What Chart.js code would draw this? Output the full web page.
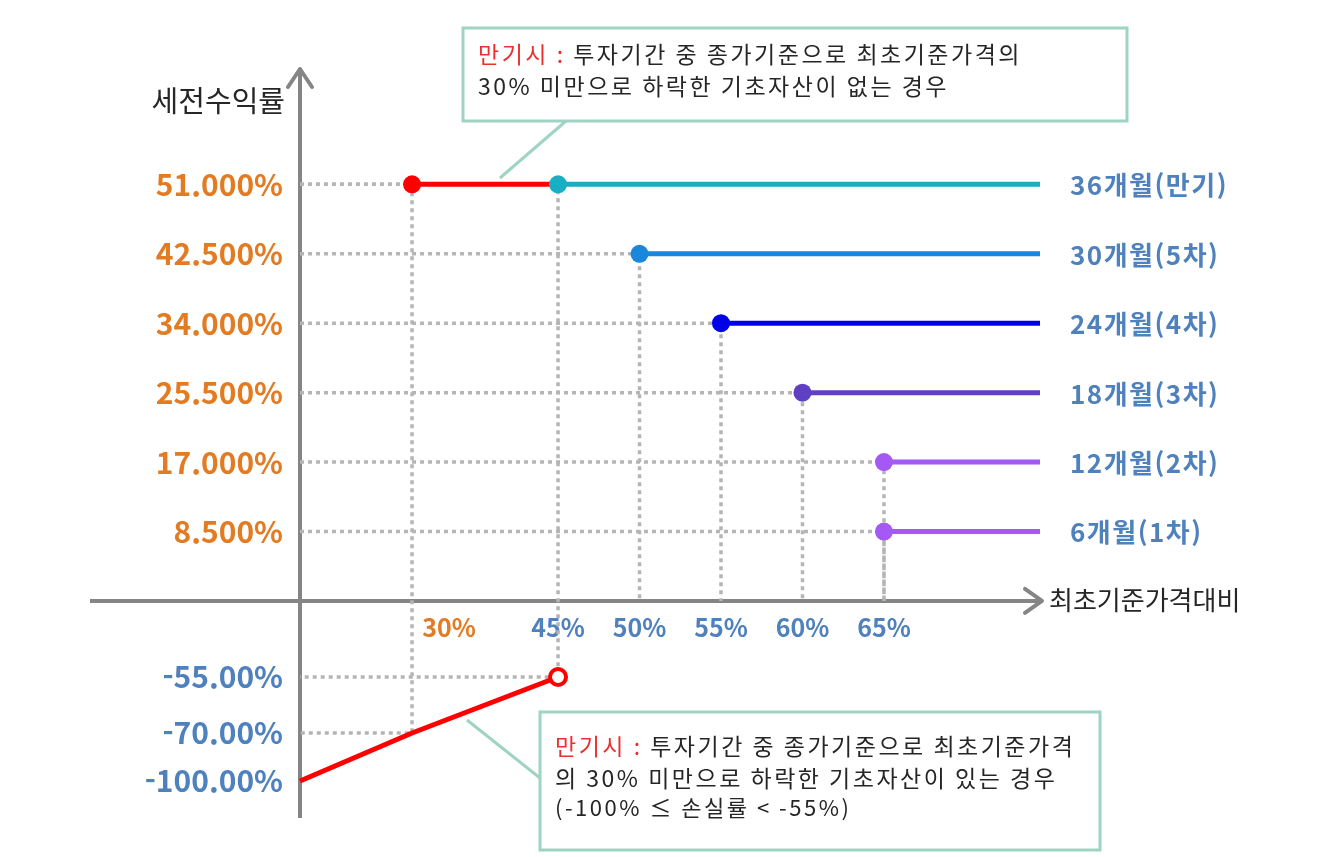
<!DOCTYPE html>
<html lang="ko">
<head>
<meta charset="utf-8">
<title>세전수익률 구조</title>
<script src="https://cdn.jsdelivr.net/npm/chart.js@4.4.1/dist/chart.umd.min.js"></script>
<style>
  html, body { margin: 0; padding: 0; background: #fff; }
  #payoffChart { display: block; }
</style>
</head>
<body>
<canvas id="payoffChart" width="1324" height="857"></canvas>
<script>
// 조기상환 / 만기 상환 조건
var periodLabels = ['36개월(만기)', '30개월(5차)', '24개월(4차)', '18개월(3차)', '12개월(2차)', '6개월(1차)'];
var barrierLevels = [45, 50, 55, 60, 65, 65];
var returnRates = [51, 42.5, 34, 25.5, 17, 8.5];

// 만기 낙인 조건과 손실 구간
var knockInLevel = 30;
var lossPrices = [0, 30, 45];
var lossRates = [-100, -70, -55];

// 축 눈금
var xTickValues = [30, 45, 50, 55, 60, 65];
var xTickLabels = ['30%', '45%', '50%', '55%', '60%', '65%'];
var yTickValues = [51, 42.5, 34, 25.5, 17, 8.5, -55, -70, -100];
var yTickLabels = ['51.000%', '42.500%', '34.000%', '25.500%', '17.000%', '8.500%', '-55.00%', '-70.00%', '-100.00%'];

var yTitle = '세전수익률';
var xTitle = '최초기준가격대비';
var noteTop = ['만기시 : ', '투자기간 중 종가기준으로 최초기준가격의', '30% 미만으로 하락한 기초자산이 없는 경우'];
var noteBottom = ['만기시 : ', '투자기간 중 종가기준으로 최초기준가격', '의 30% 미만으로 하락한 기초자산이 있는 경우', '(-100% ≤ 손실률 < -55%)'];

// styles
var FONT = "'Noto Sans CJK KR', 'Noto Sans', sans-serif";
var ORANGE = '#e27b22';
var BLUE = '#4f81bd';
var AXIS = '#858585';
var DOT = '#b5b5b5';
var RED = '#ff0000';
var BOX = '#9fd4c4';
var lineColors = ['#1aaec4', '#1a86dc', '#0000e8', '#6040c2', '#a458f4', '#a458f4'];
var X_MIN = -50, X_MAX = 100, Y_MIN = -120, Y_MAX = 65;

// linear scale with uneven spacing between break values (schematic axis)
class BrokenScale extends Chart.LinearScale {
  _toDecimal(value) {
    var br = this.options.breaks;
    var i = 1;
    while (i < br.length - 1 && value > br[i][0]) i++;
    var a = br[i - 1], b = br[i];
    return a[1] + (value - a[0]) / (b[0] - a[0]) * (b[1] - a[1]);
  }
  getPixelForValue(value) {
    if (value === null || value === undefined) return NaN;
    return this.getPixelForDecimal(this._toDecimal(value));
  }
  getValueForPixel(pixel) {
    var d = this.getDecimalForPixel(pixel);
    var br = this.options.breaks;
    var i = 1;
    while (i < br.length - 1 && d > br[i][1]) i++;
    var a = br[i - 1], b = br[i];
    return a[0] + (d - a[1]) / (b[1] - a[1]) * (b[0] - a[0]);
  }
  _computeLabelItems(chartArea) {
    var items = super._computeLabelItems(chartArea);
    var nudge = this.options.labelNudge || 0;
    items.forEach(function (item, i) {
      var d = Array.isArray(nudge) ? (nudge[i] || 0) : nudge;
      item.options.translation[0] += d;
    });
    return items;
  }
}
BrokenScale.id = 'broken';
Chart.register(BrokenScale);

function dotted(points) {
  return {
    data: points, borderColor: DOT, borderWidth: 3.5, borderDash: [4, 4],
    pointRadius: 0, fill: false, tension: 0, order: 2
  };
}

function solid(points, color, order) {
  return {
    data: points, borderColor: color, backgroundColor: color, borderWidth: 5,
    pointRadius: function (c) { return c.dataIndex === 0 ? 9 : 0; },
    pointHoverRadius: function (c) { return c.dataIndex === 0 ? 9 : 0; },
    pointBorderWidth: 0, fill: false, tension: 0, order: order
  };
}

function lossAt(price) {
  return lossRates[lossPrices.indexOf(price)];
}

var datasets = [];
// guide lines
datasets.push(dotted([
  { x: 0, y: returnRates[0] }, { x: knockInLevel, y: returnRates[0] },
  { x: knockInLevel, y: lossAt(knockInLevel) }, { x: 0, y: lossAt(knockInLevel) }
]));
barrierLevels.forEach(function (b, i) {
  var pts = [{ x: 0, y: returnRates[i] }, { x: b, y: returnRates[i] }];
  if (i === 0) {
    pts.push({ x: b, y: lossAt(b) }, { x: 0, y: lossAt(b) });
  } else {
    pts.push({ x: b, y: 0 });
  }
  datasets.push(dotted(pts));
});
// maturity: knocked-in never -> red stretch from 30% to 45%
datasets.push(solid([{ x: knockInLevel, y: returnRates[0] }, { x: barrierLevels[0], y: returnRates[0] }], RED, 1));
barrierLevels.forEach(function (b, i) {
  datasets.push(solid([{ x: b, y: returnRates[i] }, { x: X_MAX, y: returnRates[i] }], lineColors[i], 0));
});
// loss line
datasets.push({
  data: lossPrices.map(function (p, i) { return { x: p, y: lossRates[i] }; }),
  borderColor: RED, backgroundColor: '#ffffff', borderWidth: 5,
  pointRadius: function (c) { return c.dataIndex === lossPrices.length - 1 ? 8 : 0; },
  pointHoverRadius: function (c) { return c.dataIndex === lossPrices.length - 1 ? 8 : 0; },
  pointBorderWidth: 4, pointBorderColor: RED, fill: false, tension: 0, order: 0
});

function richLine(ctx, parts, x, y) {
  parts.forEach(function (p) {
    ctx.fillStyle = p[1];
    ctx.fillText(p[0], x, y);
    x += ctx.measureText(p[0]).width;
  });
}

function noteBox(ctx, box, lines, callout) {
  ctx.save();
  ctx.strokeStyle = BOX;
  ctx.lineWidth = 3;
  ctx.beginPath();
  ctx.moveTo(callout[0], callout[1]);
  ctx.lineTo(callout[2], callout[3]);
  ctx.stroke();
  ctx.fillStyle = '#ffffff';
  ctx.fillRect(box.x, box.y, box.w, box.h);
  ctx.strokeRect(box.x, box.y, box.w, box.h);
  ctx.textBaseline = 'middle';
  ctx.textAlign = 'left';
  ctx.letterSpacing = '2.5px';
  lines.forEach(function (ln) {
    ctx.font = ln.size + 'px ' + FONT;
    richLine(ctx, ln.parts, box.x + 15, ln.y);
  });
  ctx.restore();
}

var decorPlugin = {
  id: 'decor',
  afterDraw: function (chart) {
    var ctx = chart.ctx, xs = chart.scales.x, ys = chart.scales.y, area = chart.chartArea;
    var ox = xs.getPixelForValue(0), oy = ys.getPixelForValue(0);
    ctx.save();
    // arrow heads
    ctx.strokeStyle = AXIS;
    ctx.lineWidth = 4;
    ctx.lineCap = 'round';
    ctx.lineJoin = 'round';
    ctx.beginPath();
    ctx.moveTo(ox - 12, area.top + 17);
    ctx.lineTo(ox, area.top - 1);
    ctx.lineTo(ox + 12, area.top + 17);
    ctx.stroke();
    ctx.beginPath();
    ctx.moveTo(area.right - 15, oy - 12);
    ctx.lineTo(area.right + 2, oy);
    ctx.lineTo(area.right - 15, oy + 12);
    ctx.stroke();
    // axis titles
    ctx.fillStyle = '#262626';
    ctx.textBaseline = 'middle';
    ctx.font = '29px ' + FONT;
    ctx.textAlign = 'right';
    ctx.fillText(yTitle, ox - 15, area.top + 31);
    ctx.textAlign = 'left';
    ctx.font = '26px ' + FONT;
    ctx.fillText(xTitle, area.right + 9, oy - 1);
    // period labels
    ctx.font = 'bold 26px ' + FONT;
    ctx.letterSpacing = '1.5px';
    ctx.fillStyle = BLUE;
    periodLabels.forEach(function (t, i) {
      ctx.fillText(t, area.right + 30, ys.getPixelForValue(returnRates[i]) + 1);
    });
    ctx.restore();

    var DARK = '#262626';
    noteBox(ctx, { x: 463, y: 28, w: 664, h: 93 }, [
      { size: 23, y: 54, parts: [[noteTop[0], '#e8312f'], [noteTop[1], DARK]] },
      { size: 23, y: 86, parts: [[noteTop[2], DARK]] }
    ], [566, 121, 500, 178]);
    noteBox(ctx, { x: 540, y: 712, w: 560, h: 138 }, [
      { size: 23, y: 746, parts: [[noteBottom[0], '#e8312f'], [noteBottom[1], DARK]] },
      { size: 23, y: 778, parts: [[noteBottom[2], DARK]] },
      { size: 22, y: 808, parts: [[noteBottom[3], DARK]] }
    ], [540, 778, 467, 720]);
  }
};

new Chart(document.getElementById('payoffChart').getContext('2d'), {
  type: 'line',
  data: { datasets: datasets },
  plugins: [decorPlugin],
  options: {
    responsive: false,
    animation: false,
    events: [],
    layout: { padding: { left: 92, right: 284, top: 70, bottom: 40 } },
    plugins: { legend: { display: false }, tooltip: { enabled: false } },
    scales: {
      x: {
        type: 'broken',
        position: { y: 0 },
        min: X_MIN, max: X_MAX,
        breaks: [[X_MIN, 0], [0, 0.2194], [30, 0.3376], [45, 0.4916], [65, 0.8354], [X_MAX, 1]],
        labelNudge: [37, 0, 0, 0, 0, 0],
        grid: { display: false, drawTicks: false },
        border: { display: true, color: AXIS, width: 4 },
        afterBuildTicks: function (s) { s.ticks = xTickValues.map(function (v) { return { value: v }; }); },
        ticks: {
          autoSkip: false, maxRotation: 0, padding: 12,
          callback: function (v, i) { return xTickLabels[i]; },
          color: function (c) { return c.tick && c.tick.value === knockInLevel ? ORANGE : BLUE; },
          font: { family: FONT, size: 25, weight: 'bold' }
        }
      },
      y: {
        type: 'broken',
        position: { x: 0 },
        min: Y_MIN, max: Y_MAX,
        breaks: [[Y_MIN, 0], [-100, 0.0482], [-70, 0.1124], [-55, 0.1874], [0, 0.2892], [Y_MAX, 1]],
        labelNudge: -17,
        grid: { display: false, drawTicks: false },
        border: { display: true, color: AXIS, width: 4 },
        afterBuildTicks: function (s) { s.ticks = yTickValues.map(function (v) { return { value: v }; }); },
        ticks: {
          autoSkip: false, padding: 0,
          callback: function (v, i) { return yTickLabels[i]; },
          color: function (c) { return c.tick && c.tick.value >= 0 ? ORANGE : BLUE; },
          font: { family: FONT, size: 30, weight: 'bold' }
        }
      }
    }
  }
});
</script>
</body>
</html>
